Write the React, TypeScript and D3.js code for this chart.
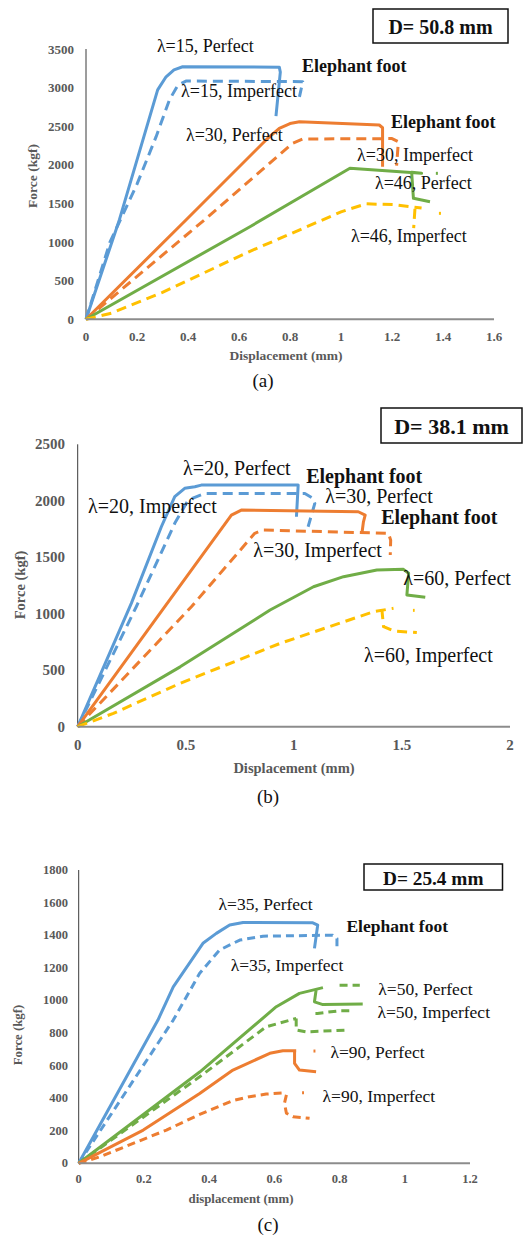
import React from 'react';
import * as d3 from 'd3';

type Pt = [number, number];

const BLUE = '#5B9BD5';
const ORANGE = '#ED7D31';
const GREEN = '#70AD47';
const YELLOW = '#FFC000';

// ---- (a) D = 50.8 mm ----
const aForceTicks = [0, 500, 1000, 1500, 2000, 2500, 3000, 3500];
const aDispTicks = [0, 0.2, 0.4, 0.6, 0.8, 1, 1.2, 1.4, 1.6];
const a15Perfect: Pt[] = [[0, 0], [0.131, 1290], [0.281, 2970], [0.314, 3140], [0.345, 3230], [0.379, 3270], [0.758, 3265], [0.762, 3200], [0.745, 2630]];
const a15Imperfect: Pt[] = [[0, 0], [0.094, 1000], [0.2, 1750], [0.275, 2365], [0.327, 2840], [0.36, 3030], [0.392, 3085], [0.85, 3077], [0.837, 2880]];
const a30Perfect: Pt[] = [[0, 0], [0.392, 1286], [0.706, 2322], [0.758, 2473], [0.8, 2535], [0.837, 2559], [1.15, 2516], [1.163, 2480], [1.163, 1976]];
const a30Imperfect: Pt[] = [[0, 0], [0.464, 1286], [0.81, 2279], [0.85, 2335], [1.2, 2340], [1.225, 2300], [1.218, 1990]];
const a46Perfect: Pt[] = [[0, 0], [0.643, 1199], [1.035, 1955], [1.316, 1890], [1.277, 1905], [1.284, 1567], [1.349, 1523]];
const a46PerfectTail: Pt[] = [[1.372, 1890], [1.38, 1890]];
const a46Imperfect: Pt[] = [[0, 0], [0.1, 80], [0.3, 350], [0.643, 880], [1.0, 1390], [1.035, 1430], [1.1, 1495], [1.205, 1485], [1.316, 1440]];
const a46ImperfectTail: Pt[] = [[1.29, 1430], [1.285, 1180]];
const a46ImperfectDot: Pt[] = [[1.384, 1372], [1.392, 1372]];
const aLabels = ['λ=15, Perfect', 'λ=15, Imperfect', 'λ=30, Perfect', 'λ=30, Imperfect', 'λ=46, Perfect', 'λ=46, Imperfect'];
const aLabelAt: Pt[] = [[0.278, 3462], [0.373, 2879], [0.392, 2309], [1.063, 2050], [1.133, 1687], [1.039, 1001]];
const aFootAt: Pt[] = [[0.847, 3203], [1.196, 2477]];

// ---- (b) D = 38.1 mm ----
const bForceTicks = [0, 500, 1000, 1500, 2000, 2500];
const bDispTicks = [0, 0.5, 1, 1.5, 2];
const b20Perfect: Pt[] = [[0, 0], [0.248, 1092], [0.387, 1770], [0.449, 2036], [0.495, 2110], [0.542, 2124], [0.572, 2139], [1.02, 2139], [1.012, 1859]];
const b20Imperfect: Pt[] = [[0, 0], [0.271, 1062], [0.449, 1800], [0.511, 2006], [0.588, 2065], [1.051, 2065], [1.089, 2021], [1.097, 1977], [1.066, 1770]];
const b30Perfect: Pt[] = [[0, 0], [0.403, 1062], [0.711, 1873], [0.757, 1918], [1.298, 1903], [1.33, 1873], [1.322, 1814], [1.315, 1712]];
const b30Imperfect: Pt[] = [[0, 0], [0.526, 1062], [0.819, 1712], [0.858, 1741], [1.438, 1712], [1.448, 1650], [1.446, 1520]];
const b60Perfect: Pt[] = [[0, 0], [0.474, 530], [0.89, 1033], [1.091, 1239], [1.23, 1328], [1.384, 1387], [1.507, 1393], [1.531, 1358], [1.523, 1166], [1.608, 1145]];
const b60Imperfect: Pt[] = [[0, 0], [0.165, 118], [0.474, 384], [0.937, 738], [1.369, 1018], [1.461, 1048]];
const b60ImperfectTail: Pt[] = [[1.407, 1040], [1.415, 885], [1.461, 848], [1.569, 833]];
const b60ImperfectDot: Pt[] = [[1.551, 1030], [1.559, 1030]];
const bLabels = ['λ=20, Perfect', 'λ=20, Imperfect', 'λ=30, Perfect', 'λ=30, Imperfect', 'λ=60, Perfect', 'λ=60, Imperfect'];
const bLabelAt: Pt[] = [[0.4875, 2228], [0.048, 1891], [1.145, 1980], [0.812, 1502], [1.506, 1254], [1.325, 573]];
const bFootAt: Pt[] = [[1.057, 2157], [1.404, 1794]];

// ---- (c) D = 25.4 mm ----
const cForceTicks = [0, 200, 400, 600, 800, 1000, 1200, 1400, 1600, 1800];
const cDispTicks = [0, 0.2, 0.4, 0.6, 0.8, 1, 1.2];
const c35Perfect: Pt[] = [[0, 0], [0.243, 879], [0.29, 1083], [0.381, 1350], [0.422, 1411], [0.463, 1462], [0.504, 1478], [0.718, 1476], [0.733, 1462], [0.723, 1319]];
const c35Imperfect: Pt[] = [[0, 0], [0.29, 879], [0.371, 1166], [0.432, 1309], [0.494, 1370], [0.565, 1394], [0.779, 1400], [0.792, 1380], [0.792, 1309]];
const c50Perfect: Pt[] = [[0, 0], [0.371, 560], [0.606, 961], [0.677, 1043], [0.749, 1078]];
const c50PerfectTail: Pt[] = [[0.728, 1063], [0.723, 991], [0.749, 974], [0.871, 977]];
const c50PerfectDash: Pt[] = [[0.8, 1092], [0.806, 1092], [0.84, 1092], [0.862, 1092]];
const c50Imperfect: Pt[] = [[0, 0], [0.371, 531], [0.575, 838], [0.667, 889]];
const c50ImperfectTail: Pt[] = [[0.667, 889], [0.667, 818], [0.698, 807], [0.83, 818]];
const c50ImperfectDash: Pt[] = [[0.726, 920], [0.732, 920], [0.8, 936], [0.842, 936]];
const c90Perfect: Pt[] = [[0, 0], [0.198, 204], [0.371, 429], [0.473, 572], [0.586, 675], [0.626, 691], [0.667, 691]];
const c90PerfectTail: Pt[] = [[0.662, 685], [0.662, 613], [0.677, 572], [0.728, 562]];
const c90PerfectDot: Pt[] = [[0.72, 689], [0.726, 689]];
const c90Imperfect: Pt[] = [[0, 0], [0.065, 40], [0.269, 204], [0.371, 300], [0.473, 385], [0.524, 409], [0.575, 425], [0.637, 433]];
const c90ImperfectTail: Pt[] = [[0.637, 420], [0.631, 368], [0.637, 307], [0.657, 286], [0.708, 276]];
const c90ImperfectDot: Pt[] = [[0.685, 433], [0.691, 433]];
const cLabels = ['λ=35, Perfect', 'λ=35, Imperfect', 'λ=50, Perfect', 'λ=50, Imperfect', 'λ=90, Perfect', 'λ=90, Imperfect'];
const cLabelAt: Pt[] = [[0.429, 1554], [0.466, 1180], [0.919, 1033], [0.916, 892], [0.772, 646], [0.748, 376]];
const cFootAt: Pt[] = [[0.821, 1419]];

const serif = "'Liberation Serif', 'Times New Roman', serif";

type Series = { pts: Pt[]; color: string; dash?: boolean };

type PanelDef = {
  left: number; right: number; top: number; bottom: number;
  xMax: number; yMax: number;
  xTicks: number[]; yTicks: number[];
  series: Series[];
  labels: string[]; labelAt: Pt[]; footAt: Pt[];
  tickSize: number; titleSize: number; labelSize: number; boxSize: number;
  xTitle: string; xTitleX: number; xTitleY: number; xTickY: number; yTickX: number;
  yTitleX: number; yTitleY: number;
  caption: string; capX: number; capY: number;
  box: [number, number, number, number]; boxText: string;
  dash: string;
};

function Panel({ p }: { p: PanelDef }) {
  const x = d3.scaleLinear().domain([0, p.xMax]).range([p.left, p.right]);
  const y = d3.scaleLinear().domain([0, p.yMax]).range([p.bottom, p.top]);
  const line = d3.line<Pt>().x(d => x(d[0])).y(d => y(d[1]));
  const [bx, by, bw, bh] = p.box;
  return (
    <g>
      <line x1={p.left} x2={p.left} y1={p.top} y2={p.bottom} stroke="#3a3a3a" strokeWidth={1} />
      {p.yTicks.map(t => (
        <text key={'y' + t} x={p.yTickX} y={y(t)} textAnchor="end" dominantBaseline="central"
          fontFamily={serif} fontWeight="bold" fontSize={p.tickSize} fill="#595959">{t}</text>
      ))}
      {p.xTicks.map(t => (
        <text key={'x' + t} x={x(t)} y={p.xTickY} textAnchor="middle" dominantBaseline="central"
          fontFamily={serif} fontWeight="bold" fontSize={p.tickSize} fill="#595959">{String(t)}</text>
      ))}
      {p.series.map((s, i) => (
        <path key={i} d={line(s.pts) || ''} fill="none" stroke={s.color} strokeWidth={3}
          strokeDasharray={s.dash ? p.dash : undefined} strokeLinejoin="round" />
      ))}
      <line x1={p.left} x2={p.right} y1={p.bottom} y2={p.bottom} stroke="#8c8c8c" strokeWidth={2} />
      <text x={p.xTitleX} y={p.xTitleY} textAnchor="middle" dominantBaseline="central"
        fontFamily={serif} fontWeight="bold" fontSize={p.titleSize} fill="#595959">{p.xTitle}</text>
      <text transform={`translate(${p.yTitleX},${p.yTitleY}) rotate(-90)`} textAnchor="middle" dominantBaseline="central"
        fontFamily={serif} fontWeight="bold" fontSize={p.titleSize} fill="#595959">Force  (kgf)</text>
      {p.labels.map((l, i) => (
        <text key={l} x={x(p.labelAt[i][0])} y={y(p.labelAt[i][1])} fontFamily={serif}
          fontSize={p.labelSize} fill="#111">{l}</text>
      ))}
      {p.footAt.map((f, i) => (
        <text key={'f' + i} x={x(f[0])} y={y(f[1])} fontFamily={serif} fontWeight="bold"
          fontSize={p.labelSize} fill="#111">Elephant foot</text>
      ))}
      <rect x={bx} y={by} width={bw} height={bh} fill="white" stroke="#111" strokeWidth={1.5} />
      <text x={bx + bw / 2} y={by + bh / 2 + 1} textAnchor="middle" dominantBaseline="central"
        fontFamily={serif} fontWeight="bold" fontSize={p.boxSize} fill="#111">{p.boxText}</text>
      <text x={p.capX} y={p.capY} textAnchor="middle" dominantBaseline="central"
        fontFamily={serif} fontSize={19} fill="#111">{p.caption}</text>
    </g>
  );
}

const panels: PanelDef[] = [
  {
    left: 86, right: 494, top: 49, bottom: 319.3, xMax: 1.6, yMax: 3500,
    xTicks: aDispTicks, yTicks: aForceTicks,
    series: [
      { pts: a15Perfect, color: BLUE }, { pts: a15Imperfect, color: BLUE, dash: true },
      { pts: a30Perfect, color: ORANGE }, { pts: a30Imperfect, color: ORANGE, dash: true },
      { pts: a46Perfect, color: GREEN }, { pts: a46PerfectTail, color: GREEN },
      { pts: a46Imperfect, color: YELLOW, dash: true }, { pts: a46ImperfectTail, color: YELLOW, dash: true },
      { pts: a46ImperfectDot, color: YELLOW },
    ],
    labels: aLabels, labelAt: aLabelAt, footAt: aFootAt,
    tickSize: 13, titleSize: 13.5, labelSize: 18, boxSize: 20,
    xTitle: 'Displacement (mm)', xTitleX: 286, xTitleY: 355, xTickY: 336, yTickX: 74,
    yTitleX: 32, yTitleY: 176, caption: '(a)', capX: 263, capY: 380,
    box: [373, 9, 135, 34], boxText: 'D= 50.8 mm', dash: '10,6',
  },
  {
    left: 77.7, right: 510, top: 444.3, bottom: 726.7, xMax: 2, yMax: 2500,
    xTicks: bDispTicks, yTicks: bForceTicks,
    series: [
      { pts: b20Perfect, color: BLUE }, { pts: b20Imperfect, color: BLUE, dash: true },
      { pts: b30Perfect, color: ORANGE }, { pts: b30Imperfect, color: ORANGE, dash: true },
      { pts: b60Perfect, color: GREEN },
      { pts: b60Imperfect, color: YELLOW, dash: true }, { pts: b60ImperfectTail, color: YELLOW, dash: true },
      { pts: b60ImperfectDot, color: YELLOW },
    ],
    labels: bLabels, labelAt: bLabelAt, footAt: bFootAt,
    tickSize: 15, titleSize: 14.5, labelSize: 20, boxSize: 22,
    xTitle: 'Displacement (mm)', xTitleX: 294, xTitleY: 768, xTickY: 745, yTickX: 65,
    yTitleX: 20, yTitleY: 585, caption: '(b)', capX: 268, capY: 796,
    box: [381, 408, 141, 35], boxText: 'D= 38.1 mm', dash: '10,6',
  },
  {
    left: 78.7, right: 470, top: 870, bottom: 1163.3, xMax: 1.2, yMax: 1800,
    xTicks: cDispTicks, yTicks: cForceTicks,
    series: [
      { pts: c35Perfect, color: BLUE }, { pts: c35Imperfect, color: BLUE, dash: true },
      { pts: c50Perfect, color: GREEN }, { pts: c50PerfectTail, color: GREEN },
      { pts: c50PerfectDash, color: GREEN, dash: true },
      { pts: c50Imperfect, color: GREEN, dash: true }, { pts: c50ImperfectTail, color: GREEN, dash: true },
      { pts: c50ImperfectDash, color: GREEN, dash: true },
      { pts: c90Perfect, color: ORANGE }, { pts: c90PerfectTail, color: ORANGE },
      { pts: c90PerfectDot, color: ORANGE },
      { pts: c90Imperfect, color: ORANGE, dash: true }, { pts: c90ImperfectTail, color: ORANGE, dash: true },
      { pts: c90ImperfectDot, color: ORANGE },
    ],
    labels: cLabels, labelAt: cLabelAt, footAt: cFootAt,
    tickSize: 12.5, titleSize: 12.8, labelSize: 17.5, boxSize: 19.3,
    xTitle: 'displacement (mm)', xTitleX: 241, xTitleY: 1199, xTickY: 1179, yTickX: 68,
    yTitleX: 18, yTitleY: 1035, caption: '(c)', capX: 268, capY: 1224,
    box: [364, 864, 138.5, 26], boxText: 'D= 25.4 mm', dash: '8,5',
  },
];

export default function App() {
  return (
    <svg width={526} height={1236} style={{ position: 'absolute', left: 0, top: 0, background: 'white' }}>
      <rect width={526} height={1236} fill="white" />
      {panels.map((p, i) => <Panel key={i} p={p} />)}
    </svg>
  );
}
